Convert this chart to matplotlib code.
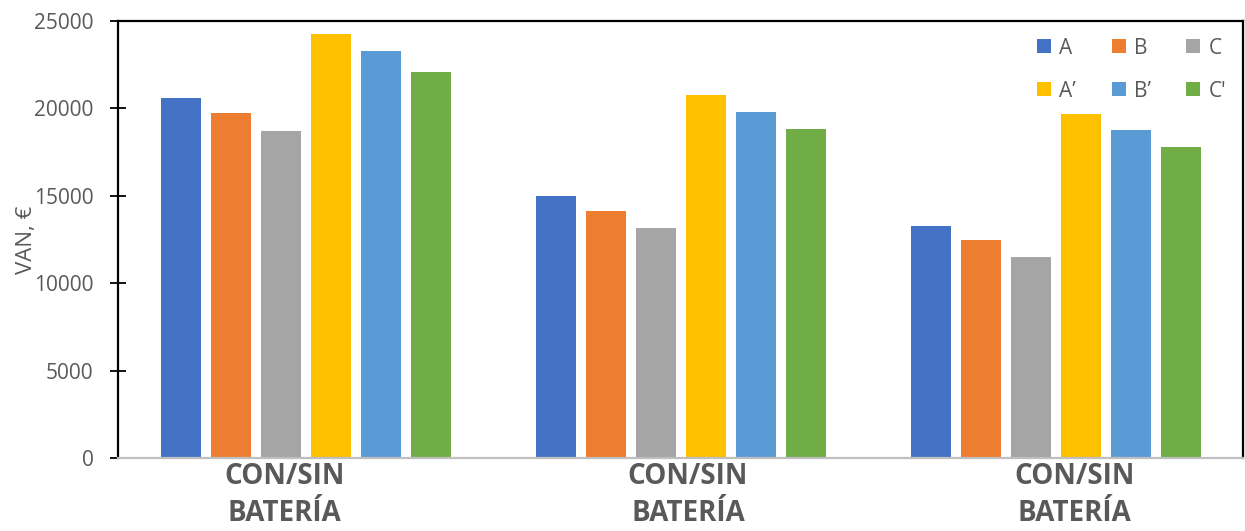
import numpy as np
import matplotlib
matplotlib.use('Agg')
import matplotlib.pyplot as plt

plt.rcParams['font.family'] = ['Open Sans', 'DejaVu Sans']

# data
categories = ['CON/SIN\nBATERÍA', 'CON/SIN\nBATERÍA', 'CON/SIN\nBATERÍA']
series_names = ['A', 'B', 'C', 'A\u2019', 'B\u2019', "C'"]
colors = ['#4472C4', '#ED7D31', '#A5A5A5', '#FFC000', '#5B9BD5', '#70AD47']
A = [20600, 15000, 13300]
B = [19750, 14150, 12450]
C = [18700, 13150, 11500]
A2 = [24250, 20750, 19700]
B2 = [23300, 19800, 18750]
C2 = [22100, 18800, 17800]
values = [A, B, C, A2, B2, C2]

grey = '#595959'

fig = plt.figure(figsize=(12.45, 5.31), dpi=100)
ax = fig.add_axes([118/1245, 1-458/531, (1243-118)/1245, (458-21)/531])

x = np.arange(len(categories))
step = 50/375.
width = 40/375.
bars = []
for i, vals in enumerate(values):
    b = ax.bar(x + (i - 2.5)*step, vals, width, color=colors[i], label=series_names[i],
               edgecolor='none')
    bars.append(b)

ax.set_xlim(-0.5, 2.5)
ax.set_ylim(0, 25000)
ax.set_yticks(np.arange(0, 25001, 5000))
ax.tick_params(axis='y', direction='inout', length=11, width=1.3, colors='black',
               labelcolor=grey, labelsize=15, pad=12)
ax.set_ylabel('VAN, €', fontsize=16, color=grey)
ax.yaxis.set_label_coords(-0.072, 0.5)

ax.set_xticks(x + np.array([-0.055, 0.02, 0.05]))
ax.set_xticklabels(categories, fontsize=20, fontweight='bold', color=grey,
                   linespacing=1.35)
ax.tick_params(axis='x', length=0, pad=3)

for s in ['left', 'top', 'right']:
    ax.spines[s].set_color('black')
    ax.spines[s].set_linewidth(1.6)
ax.spines['bottom'].set_color('#BFBFBF')
ax.spines['bottom'].set_linewidth(1.6)

order = [0, 3, 1, 4, 2, 5]
h = [bars[i] for i in order]
l = [series_names[i] for i in order]
leg = ax.legend(h, l, ncol=3, loc='upper right', bbox_to_anchor=(1.0, 1.0),
                frameon=False, fontsize=15, handlelength=0.67, handleheight=0.67,
                handletextpad=0.4, columnspacing=1.7, labelspacing=1.05,
                borderaxespad=0.4)
for t in leg.get_texts():
    t.set_color(grey)

fig.savefig('out.png', dpi=100)
